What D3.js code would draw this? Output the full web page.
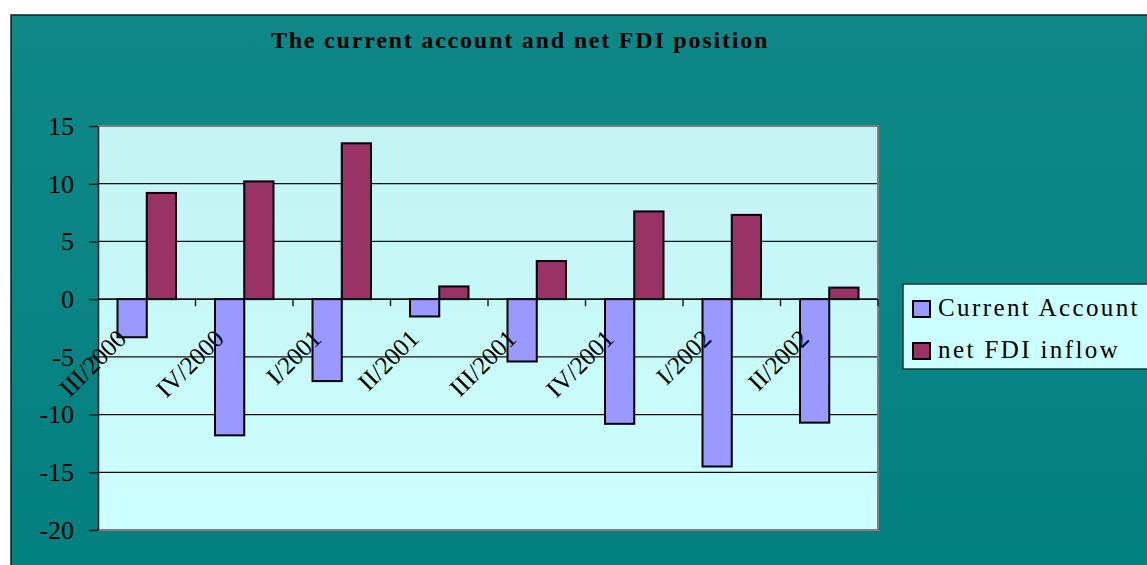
<!DOCTYPE html>
<html>
<head>
<meta charset="utf-8">
<script src="https://cdn.jsdelivr.net/npm/d3@7"></script>
<style>
  body { margin: 0; background: #fff; }
  svg { display: block; font-family: "Liberation Serif", "Times New Roman", serif; }
</style>
</head>
<body>
<div id="chart"></div>
<script>
// chart data
var categories = ["III/2000", "IV/2000", "I/2001", "II/2001", "III/2001", "IV/2001", "I/2002", "II/2002"];
var seriesNames = ["Current Account", "net FDI inflow"];
var currentAccount = [-3.3, -11.8, -7.1, -1.5, -5.4, -10.8, -14.5, -10.7];
var netFdiInflow = [9.2, 10.2, 13.5, 1.1, 3.3, 7.6, 7.3, 1.0];
var yTicks = [-20, -15, -10, -5, 0, 5, 10, 15];

var colors = ["#9999ff", "#993366"];
var W = 1147, H = 565;
var plot = {left: 98, top: 126, right: 878, bottom: 530};

var svg = d3.select("#chart").append("svg")
    .attr("width", W)
    .attr("height", H);

var defs = svg.append("defs");
var g1 = defs.append("linearGradient").attr("id", "bgGrad")
    .attr("x1", 0).attr("y1", 0).attr("x2", 0).attr("y2", 1);
g1.append("stop").attr("offset", "0%").attr("stop-color", "#108888");
g1.append("stop").attr("offset", "100%").attr("stop-color", "#038080");
var g2 = defs.append("linearGradient").attr("id", "plotGrad")
    .attr("x1", 0).attr("y1", 0).attr("x2", 0).attr("y2", 1);
g2.append("stop").attr("offset", "0%").attr("stop-color", "#c3f3f2");
g2.append("stop").attr("offset", "100%").attr("stop-color", "#ccffff");

// outer chart area
svg.append("rect")
    .attr("x", 11).attr("y", 15)
    .attr("width", W).attr("height", H)
    .attr("fill", "url(#bgGrad)")
    .attr("stroke", "#0d2222")
    .attr("stroke-width", 1.5);

// title
svg.append("text")
    .attr("x", 520)
    .attr("y", 48)
    .attr("text-anchor", "middle")
    .attr("font-size", "24px")
    .attr("font-weight", "bold")
    .attr("letter-spacing", "1.8px")
    .attr("fill", "#000")
    .text("The current account and net FDI position");

// scales
var xScale = d3.scaleBand()
    .domain(categories)
    .range([plot.left, plot.right]);

var groupWidth = xScale.bandwidth() * 0.6;
var xInner = d3.scaleBand()
    .domain(seriesNames)
    .range([0, groupWidth]);

var yScale = d3.scaleLinear()
    .domain([-20, 15])
    .range([plot.bottom, plot.top]);

// plot background
svg.append("rect")
    .attr("x", plot.left).attr("y", plot.top)
    .attr("width", plot.right - plot.left)
    .attr("height", plot.bottom - plot.top)
    .attr("fill", "url(#plotGrad)");

// gridlines
svg.append("g")
    .selectAll("line")
    .data(yTicks.filter(function(d) { return d > -20 && d < 15; }))
    .enter()
    .append("line")
        .attr("x1", plot.left).attr("x2", plot.right)
        .attr("y1", function(d) { return yScale(d); })
        .attr("y2", function(d) { return yScale(d); })
        .attr("stroke", "#111")
        .attr("stroke-width", 1.2);

// plot border (grey, top + right + bottom)
svg.append("path")
    .attr("d", "M" + plot.left + "," + plot.top + "H" + plot.right + "V" + plot.bottom + "H" + plot.left)
    .attr("fill", "none")
    .attr("stroke", "#7f7f7f")
    .attr("stroke-width", 2);

// y axis
var yAxis = svg.append("g")
    .attr("transform", "translate(" + plot.left + ",0)")
    .call(d3.axisLeft(yScale)
        .tickValues(yTicks)
        .tickFormat(function(d) { return String(d); })
        .tickSize(9).tickPadding(15).tickSizeOuter(0));
yAxis.attr("font-family", null).attr("font-size", null);
yAxis.select(".domain").attr("stroke", "#222").attr("stroke-width", 1.5);
yAxis.selectAll(".tick line").attr("stroke", "#222").attr("stroke-width", 1.5);
yAxis.selectAll(".tick text")
    .style("font-family", "'Liberation Serif', 'Times New Roman', serif")
    .style("font-size", "26px")
    .attr("fill", "#000");

// bars
var data = categories.map(function(c, i) {
    return {cat: c, values: [currentAccount[i], netFdiInflow[i]]};
});
var groups = svg.append("g")
    .selectAll("g")
    .data(data)
    .enter()
    .append("g")
        .attr("transform", function(d) {
            return "translate(" + (xScale(d.cat) + (xScale.bandwidth() - groupWidth) / 2) + ",0)";
        });
groups.selectAll("rect")
    .data(function(d) { return d.values.map(function(v, j) { return {name: seriesNames[j], value: v, idx: j}; }); })
    .enter()
    .append("rect")
        .attr("x", function(d) { return xInner(d.name); })
        .attr("y", function(d) { return yScale(Math.max(0, d.value)); })
        .attr("width", xInner.bandwidth())
        .attr("height", function(d) { return Math.abs(yScale(d.value) - yScale(0)); })
        .attr("fill", function(d) { return colors[d.idx]; })
        .attr("stroke", "#000")
        .attr("stroke-width", 2);

// x axis at zero
var y0 = yScale(0);
svg.append("line")
    .attr("x1", plot.left).attr("x2", plot.right)
    .attr("y1", y0).attr("y2", y0)
    .attr("stroke", "#111")
    .attr("stroke-width", 1.5);
var boundaries = categories.slice(1).map(function(c) { return xScale(c); }).concat([plot.right]);
svg.append("g")
    .selectAll("line")
    .data(boundaries)
    .enter()
    .append("line")
        .attr("x1", function(d) { return d; })
        .attr("x2", function(d) { return d; })
        .attr("y1", y0).attr("y2", y0 + 7)
        .attr("stroke", "#222")
        .attr("stroke-width", 1.5);

// x labels, rotated
svg.append("g")
    .selectAll("text")
    .data(categories)
    .enter()
    .append("text")
        .attr("transform", function(d) {
            var cx = xScale(d) + xScale.bandwidth() / 2 - 19;
            return "translate(" + cx + "," + (y0 + 41) + ") rotate(-45)";
        })
        .attr("text-anchor", "end")
        .attr("font-size", "25px")
        .attr("fill", "#000")
        .text(function(d) { return d; });

// legend
var legend = svg.append("g");
legend.append("rect")
    .attr("x", 903).attr("y", 284)
    .attr("width", 260).attr("height", 85)
    .attr("fill", "#ccffff")
    .attr("stroke", "#1d3333")
    .attr("stroke-width", 1.5);
var items = legend.selectAll("g.item")
    .data(seriesNames)
    .enter()
    .append("g")
        .attr("class", "item")
        .attr("transform", function(d, i) { return "translate(913," + (301 + i * 42) + ")"; });
items.append("rect")
    .attr("width", 17).attr("height", 16)
    .attr("fill", function(d, i) { return colors[i]; })
    .attr("stroke", "#000")
    .attr("stroke-width", 2);
items.append("text")
    .attr("x", 25)
    .attr("y", 15)
    .attr("font-size", "25px")
    .attr("letter-spacing", "2.4px")
    .attr("fill", "#000")
    .text(function(d) { return d; });
</script>
</body>
</html>
